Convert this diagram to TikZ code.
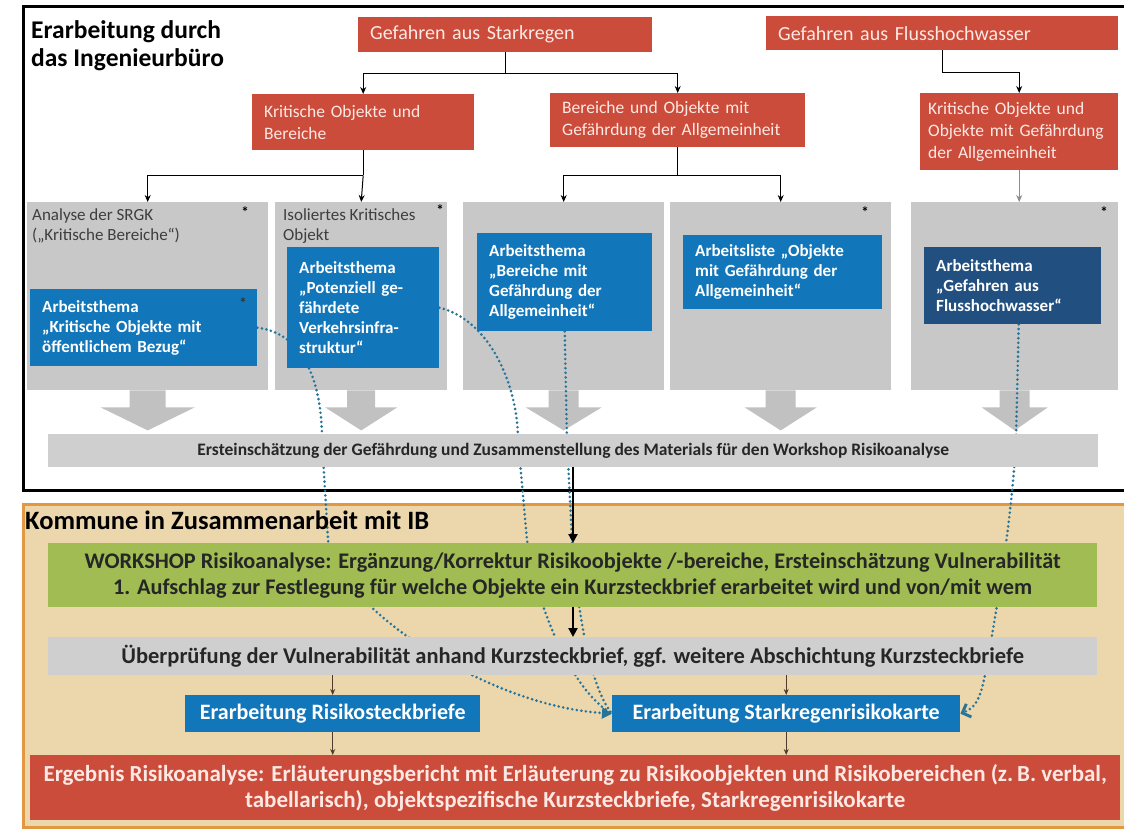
\documentclass[tikz,border=0pt]{standalone}
\usepackage{fontspec}
\setmainfont{Carlito}
\usetikzlibrary{arrows.meta,calc}
\pgfdeclarelayer{bg}\pgfdeclarelayer{mid}\pgfsetlayers{bg,mid,main}
\definecolor{redc}{RGB}{203,76,58}
\definecolor{redtxt}{RGB}{253,232,228}
\definecolor{bluec}{RGB}{18,118,186}
\definecolor{dblue}{RGB}{33,80,128}
\definecolor{panelc}{RGB}{200,200,200}
\definecolor{barc}{RGB}{207,207,207}
\definecolor{arrowc}{RGB}{193,193,193}
\definecolor{tanc}{RGB}{236,214,172}
\definecolor{orangec}{RGB}{226,152,66}
\definecolor{greenc}{RGB}{160,188,82}
\definecolor{dotc}{RGB}{38,116,152}
\definecolor{ptxt}{RGB}{62,62,62}
\definecolor{smallarr}{RGB}{80,60,45}
\newcommand\blockarr[3]{%
\fill[arrowc] ($(#1.south)+(-#2,0)$) -- ($(#1.south)+(-#2,17)$) -- ($(#1.south)+(-#3,17)$) -- ($(#1.south)+(0,40)$) -- ($(#1.south)+(#3,17)$) -- ($(#1.south)+(#2,17)$) -- ($(#1.south)+(#2,0)$) -- cycle;}
\begin{document}
\begin{tikzpicture}[x=1pt,y=-1pt,
  redbox/.style={fill=redc, text=redtxt, inner xsep=12pt, inner ysep=3pt, align=left, anchor=north west, font=\fontsize{17.5}{22}\selectfont},
  headbox/.style={redbox, font=\fontsize{20}{24}\selectfont},
  panel/.style={fill=panelc, inner sep=0, anchor=north west},
  ptext/.style={text=ptxt, inner sep=0, align=left, anchor=north west, font=\fontsize{17}{20}\selectfont},
  bluebox/.style={fill=bluec, text=white, inner xsep=12pt, inner ysep=2pt, align=left, anchor=north west, font=\fontsize{17}{20}\bfseries},
  star/.style={inner sep=0, font=\fontsize{15}{15}\bfseries},
  barbox/.style={fill=barc, inner sep=0, anchor=north west, text=black!85},
  greenbox/.style={fill=greenc, inner sep=0, anchor=north west, align=center, text=black!85, font=\fontsize{22.3}{26}\bfseries},
  bbox/.style={fill=bluec, text=white, inner sep=0, anchor=north west, font=\fontsize{22}{26}\bfseries},
  resbox/.style={fill=redc, text=redtxt, inner sep=0, anchor=north west, align=center, font=\fontsize{23}{26}\bfseries},
  lnk/.style={line width=1pt, draw=black},
  conn/.style={lnk, -{Stealth[length=7pt,width=6pt]}},
  small/.style={line width=0.9pt, draw=smallarr, -{Stealth[length=6pt,width=5pt]}},
  thickarr/.style={line width=2.6pt, draw=black, -{Triangle[length=9pt,width=9pt]}},
  dotl/.style={draw=dotc, line width=2.9pt, dash pattern=on 0pt off 4.6pt, line cap=round}
]
\useasboundingbox (0,0) rectangle (1124,829);

% ---------- nodes ----------
\node[anchor=north west, align=left, font=\fontsize{25.5}{28}\bfseries, inner sep=0] (title) at (31,20) {Erarbeitung durch\\das Ingenieurbüro};

\node[headbox, minimum width=294, minimum height=35, text width=270] (sr) at (358,17) {Gefahren aus Starkregen};
\node[headbox, minimum width=352, minimum height=34, text width=328] (fh) at (766,16) {Gefahren aus Flusshochwasser};
\node[redbox, minimum width=222, minimum height=56, text width=198] (kob) at (252,94) {Kritische Objekte und\\Bereiche};
\node[redbox, minimum width=255, minimum height=54, text width=231] (bog) at (550,93) {Bereiche und Objekte mit\\Gefährdung der Allgemeinheit};
\node[redbox, inner xsep=8pt, minimum width=198, minimum height=77, text width=182] (kog) at (920,93) {Kritische Objekte und\\Objekte mit Gefährdung\\der Allgemeinheit};

\begin{pgfonlayer}{bg}
\fill[white] (0,0) rectangle (1124,829);
\draw[line width=3pt] (23,7) rectangle (1140,490);
\draw[fill=tanc, draw=orangec, line width=3pt] (23,504) rectangle (1140,827);
\node[panel, minimum width=241, minimum height=188] (p1) at (27,202) {};
\node[panel, minimum width=172, minimum height=188] (p2) at (275,202) {};
\node[panel, minimum width=201, minimum height=188] (p3) at (463,202) {};
\node[panel, minimum width=221, minimum height=188] (p4) at (670,202) {};
\node[panel, minimum width=207, minimum height=188] (p5) at (911,202) {};
\blockarr{p1}{18}{47}
\blockarr{p2}{14}{36}
\blockarr{p3}{15}{38}
\blockarr{p4}{15}{36}
\blockarr{p5}{15}{33}
\end{pgfonlayer}

\node[ptext] (p1t) at (32,208) {Analyse der SRGK\\(„Kritische Bereiche“)};
\node[ptext] (p2t) at (283,208) {Isoliertes Kritisches\\Objekt};
\node[star] (s1) at (245,212) {*};
\node[star] (s2) at (440,210) {*};
\node[star] (s4) at (865,212) {*};
\node[star] (s5) at (1104,212) {*};

\node[bluebox, minimum width=227, minimum height=77, text width=203] (ab1) at (30,289) {Arbeitsthema\\„Kritische Objekte mit\\öffentlichem Bezug“};
\node[star, text=black!80] (s1b) at (243,303) {*};
\node[bluebox, minimum width=152, minimum height=121, text width=128] (ab2) at (287,247) {Arbeitsthema\\„Potenziell ge-\\fährdete\\Verkehrsinfra-\\struktur“};
\node[bluebox, minimum width=174, minimum height=98, text width=151] (ab3) at (477,233) {Arbeitsthema\\„Bereiche mit\\Gefährdung der\\Allgemeinheit“};
\node[bluebox, minimum width=199, minimum height=74, text width=175] (ab4) at (683,235) {Arbeitsliste „Objekte\\mit Gefährdung der\\Allgemeinheit“};
\node[bluebox, fill=dblue, minimum width=177, minimum height=77, text width=153] (ab5) at (924,247) {Arbeitsthema\\„Gefahren aus\\Flusshochwasser“};

\node[barbox, minimum width=1050, minimum height=33, font=\fontsize{17.5}{20}\bfseries] (einsch) at (48,434) {Ersteinschätzung der Gefährdung und Zusammenstellung des Materials für den Workshop Risikoanalyse};

\node[anchor=north west, font=\fontsize{26.5}{30}\bfseries, inner sep=0] (kt) at (25,511) {Kommune in Zusammenarbeit mit IB};

\node[greenbox, minimum width=1049, minimum height=64] (work) at (48,543) {WORKSHOP Risikoanalyse: Ergänzung/Korrektur Risikoobjekte /-bereiche, Ersteinschätzung Vulnerabilität\\1. Aufschlag zur Festlegung für welche Objekte ein Kurzsteckbrief erarbeitet wird und von/mit wem};

\node[barbox, minimum width=1049, minimum height=38, font=\fontsize{22.5}{26}\bfseries] (pruef) at (48,637) {Überprüfung der Vulnerabilität anhand Kurzsteckbrief, ggf. weitere Abschichtung Kurzsteckbriefe};

\node[bbox, minimum width=295, minimum height=37] (rsb) at (185,695) {Erarbeitung Risikosteckbriefe};
\node[bbox, minimum width=348, minimum height=37] (srk) at (612,695) {Erarbeitung Starkregenrisikokarte};

\node[resbox, minimum width=1090, minimum height=65] (erg) at (30,755) {Ergebnis Risikoanalyse: Erläuterungsbericht mit Erläuterung zu Risikoobjekten und Risikobereichen (z.\,B. verbal,\\tabellarisch), objektspezifische Kurzsteckbriefe, Starkregenrisikokarte};

% ---------- connectors ----------
\coordinate (srj) at ($(sr.south)+(0,21)$);
\draw[lnk] (sr.south) -- (srj);
\draw[conn] (srj) -| (kob.north);
\draw[conn] (srj) -| (bog.north);
\coordinate (fhj) at ($(fh.south)+(0,22)$);
\draw[lnk] (fh.south) -- (fhj);
\draw[conn] (fhj) -| (kog.north);
\coordinate (kobj) at ($(kob.south)+(0,25)$);
\draw[lnk] (kob.south) -- (kobj);
\draw[conn] (kobj) -| (p1.north);
\draw[conn] (kobj) -- (p2.north);
\coordinate (bogj) at ($(bog.south)+(0,28)$);
\draw[lnk] (bog.south) -- (bogj);
\draw[conn] (bogj) -| (p3.north);
\draw[conn] (bogj) -| (p4.north);
\draw[conn, draw=black!45] (kog.south) -- (kog.south |- p5.north);

\coordinate (bx) at (573,0);
\draw[thickarr] (einsch.south -| bx) -- (work.north -| bx);
\draw[thickarr] (work.south -| bx) -- (pruef.north -| bx);

\draw[small] (pruef.south -| rsb.north) -- (rsb.north);
\draw[small] (pruef.south -| srk.north) -- (srk.north);
\draw[small] (rsb.south) -- (rsb.south |- erg.north);
\draw[small] (srk.south) -- (srk.south |- erg.north);

\begin{pgfonlayer}{mid}
\draw[dotl, -{Triangle[length=10pt,width=11pt]}] (ab1.east) .. controls +(48,6) and +(0,-55) .. (322,440) -- (328,540) .. controls (333,600) and (480,705) .. (srk.west);
\draw[dotl] (ab2.east) .. controls +(50,12) and +(0,-55) .. (518,440) -- (527,540) .. controls (535,600) and (570,690) .. (srk.west);
\draw[dotl] (ab3.south) -- (567,440) -- (572,540) .. controls (578,620) and (592,690) .. (srk.west);
\draw[dotl, -{Straight Barb[length=7pt,width=14pt]}] ($(ab5.south)+(6,0)$) -- (1016,440) .. controls (1012,520) and (995,620) .. (985,675) .. controls (980,700) and (975,708) .. (srk.east);
\end{pgfonlayer}
\end{tikzpicture}
\end{document}
